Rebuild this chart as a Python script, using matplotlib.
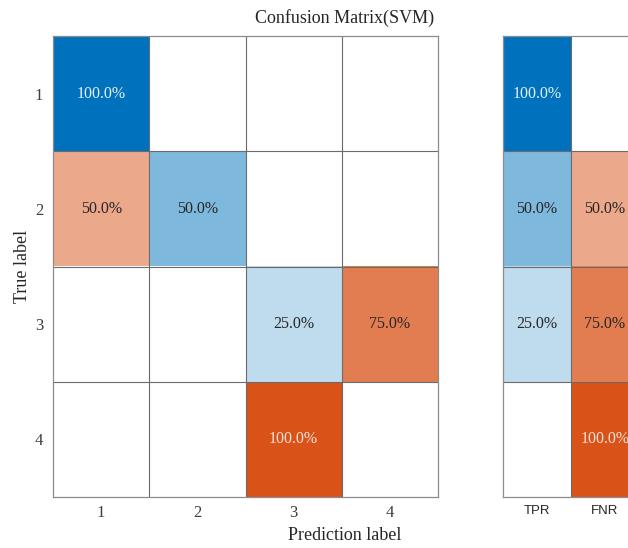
import numpy as np
import matplotlib
matplotlib.use("Agg")
import matplotlib.pyplot as plt
from matplotlib.colors import LinearSegmentedColormap

# Confusion matrix (row-normalised, %) for the SVM classifier
class_labels = ["1", "2", "3", "4"]
conf_pct = np.array([
    [100.0, 0.0, 0.0, 0.0],
    [50.0, 50.0, 0.0, 0.0],
    [0.0, 0.0, 25.0, 75.0],
    [0.0, 0.0, 100.0, 0.0],
])
# Per-class summary: true positive rate / false negative rate
summary_labels = ["TPR", "FNR"]
tpr_pct = [100.0, 50.0, 25.0, 0.0]
fnr_pct = [0.0, 50.0, 75.0, 100.0]

BLUE = "#0072BD"
ORANGE = "#D95319"
cm_blue = LinearSegmentedColormap.from_list("wb", ["#FFFFFF", BLUE])
cm_orange = LinearSegmentedColormap.from_list("wo", ["#FFFFFF", ORANGE])

serif = ["Liberation Serif", "DejaVu Serif"]
plt.rcParams["font.family"] = serif

fig = plt.figure(figsize=(6.28, 5.48), dpi=100)
W, H = 628, 548


def add_ax(x0, y0, x1, y1):
    return fig.add_axes([x0 / W, 1 - y1 / H, (x1 - x0) / W, (y1 - y0) / H])


def draw_cells(ax, values, is_diag):
    nrows, ncols = values.shape
    rgb = np.ones((nrows, ncols, 4))
    for i in range(nrows):
        for j in range(ncols):
            cmap = cm_blue if is_diag[i, j] else cm_orange
            rgb[i, j] = cmap(values[i, j] / 100.0)
    ax.imshow(rgb, aspect="auto", interpolation="nearest",
              extent=(-0.5, ncols - 0.5, nrows - 0.5, -0.5))
    for i in range(nrows):
        for j in range(ncols):
            v = values[i, j]
            if v <= 0:
                continue
            if v >= 90:
                tc = "#E6F0F8" if is_diag[i, j] else "#F8E4DC"
            else:
                tc = "#262626"
            ax.text(j, i, f"{v:.1f}%", ha="center", va="center",
                    fontsize=11.5, color=tc)
    for k in range(1, ncols):
        ax.axvline(k - 0.5, color="#6b6b6b", lw=0.8)
    for k in range(1, nrows):
        ax.axhline(k - 0.5, color="#6b6b6b", lw=0.8)
    for s in ax.spines.values():
        s.set_color("#8c8c8c")
        s.set_linewidth(0.9)
    ax.tick_params(length=0)
    ax.set_xlim(-0.5, ncols - 0.5)
    ax.set_ylim(nrows - 0.5, -0.5)


# Main confusion matrix
ax = add_ax(53, 36, 438, 497)
n = len(class_labels)
diag = np.eye(n, dtype=bool)
draw_cells(ax, conf_pct, diag)
ax.set_xticks(range(n))
ax.set_xticklabels(class_labels, fontsize=12, color="#3c3c3c")
ax.set_yticks(range(n))
ax.set_yticklabels(class_labels, fontsize=12, color="#3c3c3c")
ax.tick_params(axis="x", pad=6)
ax.tick_params(axis="y", pad=7)
ax.set_ylabel("True label", fontsize=13, color="#262626", labelpad=3)

# Row summary panel
ax2 = add_ax(503, 36, 639, 497)
summary = np.column_stack([tpr_pct, fnr_pct])
sdiag = np.zeros_like(summary, dtype=bool)
sdiag[:, 0] = True
draw_cells(ax2, summary, sdiag)
ax2.set_yticks([])
ax2.set_xticks(range(len(summary_labels)))
ax2.set_xticklabels(summary_labels, fontsize=9.5, color="#262626",
                    family=["Liberation Sans", "DejaVu Sans"])
ax2.tick_params(axis="x", pad=6)

fig.text(345 / W, 1 - 18 / H, "Confusion Matrix(SVM)", ha="center",
         va="center", fontsize=13, color="#262626")
fig.text(345 / W, 1 - 536 / H, "Prediction label", ha="center",
         va="center", fontsize=13, color="#262626")

fig.savefig("out.png", dpi=100)
